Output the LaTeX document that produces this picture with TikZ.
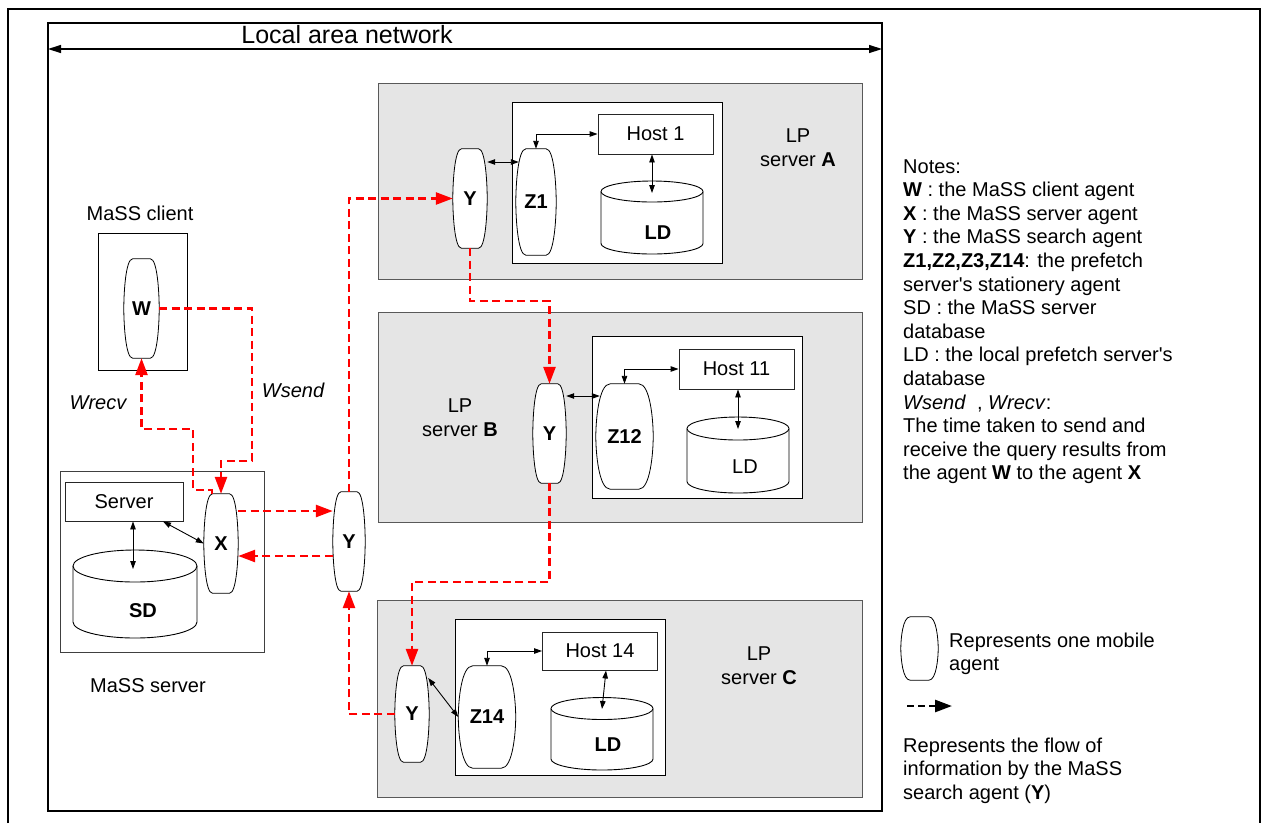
\documentclass[tikz,border=0pt]{standalone}
\usepackage{tikz}
\usepackage{fontspec}
\setmainfont{Liberation Sans}[Ligatures=TeXOff]
\usetikzlibrary{arrows.meta,calc}
\pgfdeclarelayer{boxes}
\pgfdeclarelayer{shapes}
\pgfsetlayers{boxes,shapes,main}

% barrel outline of a mobile agent, drawn round a named node
\newcommand\barrel[1]{%
  \filldraw[agentline]
    ($(#1.north west)!0.25!(#1.north east)$) -- ($(#1.north west)!0.75!(#1.north east)$)
    .. controls ($(#1.north west)!0.95!(#1.north east)$) and ($(#1.north east)!0.35!(#1.south east)$) .. (#1.east)
    .. controls ($(#1.south east)!0.35!(#1.north east)$) and ($(#1.south west)!0.95!(#1.south east)$) .. ($(#1.south west)!0.75!(#1.south east)$)
    -- ($(#1.south west)!0.25!(#1.south east)$)
    .. controls ($(#1.south west)!0.05!(#1.south east)$) and ($(#1.south west)!0.35!(#1.north west)$) .. (#1.west)
    .. controls ($(#1.north west)!0.35!(#1.south west)$) and ($(#1.north west)!0.05!(#1.north east)$) .. cycle;}

% database cylinder: centre x, top-ellipse y, bottom-ellipse y, x radius, y radius
\newcommand\dbcyl[5]{%
  \filldraw[cylline] ({#1-#4},#2) -- ({#1-#4},#3)
    arc[start angle=180,end angle=360,x radius=#4pt,y radius=#5pt]
    -- ({#1+#4},#2)
    arc[start angle=0,end angle=180,x radius=#4pt,y radius=#5pt] -- cycle;
  \draw[cylline] ({#1+#4},#2) arc[start angle=0,end angle=-180,x radius=#4pt,y radius=#5pt];}

\tikzset{
  lbl/.style={inner sep=0pt, font=\fontsize{20}{23.6}\selectfont},
  lblit/.style={inner sep=0pt, font=\fontsize{20}{23.6}\selectfont\itshape},
  agent/.style={rectangle, inner sep=0pt, font=\fontsize{20}{24}\selectfont\bfseries},
  agentline/.style={draw=black, fill=white, line width=0.8pt},
  cylline/.style={draw=black, fill=white, line width=0.9pt},
  hostbox/.style={draw=black!85, fill=white, line width=0.9pt, inner sep=0pt,
    font=\fontsize{20}{24}\selectfont},
  lpbox/.style={draw=black!65, fill=black!10, line width=1pt},
  innerbox/.style={draw=black, fill=white, line width=1pt},
  link/.style={draw=black, line width=0.9pt,
    {Triangle[length=8pt,width=5.5pt]}-{Triangle[length=8pt,width=5.5pt]}},
  flow/.style={draw=red, line width=2.6pt, dash pattern=on 8pt off 4.5pt,
    -{Triangle[length=17pt,width=12pt]}},
  legflow/.style={draw=black, line width=2.6pt, dash pattern=on 7pt off 4pt,
    -{Triangle[length=17pt,width=12pt]}},
  lanarrow/.style={draw=black, line width=1.4pt,
    {Triangle[length=13pt,width=8pt]}-{Triangle[length=13pt,width=8pt]}}
}

\begin{document}
\begin{tikzpicture}[x=1pt,y=-1pt]
\useasboundingbox (0,0) rectangle (1265,823);

% outer frame
\draw[line width=2pt] (8,823) -- (8,9) -- (1260,9) -- (1260,823);

% containers
\begin{pgfonlayer}{boxes}
  \draw[line width=1.1pt] (48,23) rectangle (882,811);
  \draw[lpbox] (378,83) rectangle (862,279);
  \draw[lpbox] (378,312) rectangle (862,522);
  \draw[lpbox] (377,600) rectangle (862,797);
  \draw[innerbox] (512,102) rectangle (722,263);
  \draw[innerbox] (592,336) rectangle (802,498);
  \draw[innerbox] (455,619) rectangle (665,775);
  \draw[innerbox] (98,233) rectangle (187,370);
  \draw[draw=black!75, fill=white, line width=1pt] (60,471) rectangle (264,652);
\end{pgfonlayer}

% local area network
\coordinate (lanL) at (48,49);
\coordinate (lanR) at (882,49);
\draw[lanarrow] (lanL) -- (lanR);
\node[inner sep=0pt, anchor=base, font=\fontsize{25}{30}\selectfont] (lan) at (347,43) {Local area network};

% hosts
\node[hostbox, minimum width=115pt, minimum height=40pt] (host1) at (655.5,134) {Host 1};
\node[hostbox, minimum width=115pt, minimum height=40pt] (host11) at (736.5,369) {Host 11};
\node[hostbox, minimum width=115pt, minimum height=38pt] (host14) at (600,651) {Host 14};
\node[hostbox, minimum width=118pt, minimum height=39pt] (server) at (124,501.5) {Server};

% databases
\begin{pgfonlayer}{shapes}
  \dbcyl{652}{191.5}{243.5}{51}{10.5}
  \dbcyl{738}{428.5}{481.5}{51}{11.5}
  \dbcyl{602}{708.5}{759}{51}{11}
  \dbcyl{135}{566}{622}{62}{16}
\end{pgfonlayer}
\node[lbl, font=\fontsize{20}{24}\selectfont\bfseries] (ldA) at (658,233) {LD};
\node[lbl] (ldB) at (745,467) {LD};
\node[lbl, font=\fontsize{20}{24}\selectfont\bfseries] (ldC) at (608,745) {LD};
\node[lbl, font=\fontsize{20}{24}\selectfont\bfseries] (sd) at (143,611) {SD};

% agents
\node[agent, minimum width=35pt, minimum height=99pt] (W) at (141.5,308.5) {W};
\node[agent, minimum width=34pt, minimum height=99pt] (X) at (221,543.5) {X};
\node[agent, minimum width=32pt, minimum height=99pt] (Ymid) at (349,541.5) {Y};
\node[agent, minimum width=34pt, minimum height=99pt] (yA) at (470,198.5) {Y};
\node[agent, minimum width=40pt, minimum height=106pt] (z1) at (536,202) {Z1};
\node[agent, minimum width=33pt, minimum height=99pt] (yB) at (549.5,433.5) {Y};
\node[agent, minimum width=57pt, minimum height=105pt] (z12) at (624.5,436.5) {Z12};
\node[agent, minimum width=34pt, minimum height=96pt] (yC) at (412,714) {Y};
\node[agent, minimum width=57pt, minimum height=102pt] (z14) at (487,717) {Z14};
\node[agent, minimum width=37pt, minimum height=63pt] (legAgent) at (919.5,648.5) {};
\begin{pgfonlayer}{shapes}
  \foreach \a in {W,X,Ymid,yA,z1,yB,z12,yC,z14,legAgent} {\barrel{\a}}
\end{pgfonlayer}

% text labels
\node[lbl] (clientlbl) at (140,213) {MaSS client};
\node[lbl] (serverlbl) at (148,686) {MaSS server};
\node[lblit] (wsend) at (293,390) {Wsend};
\node[lblit] (wrecv) at (98,403) {Wrecv};
\node[lbl, align=center] (lpA) at (798,148) {LP\\server \textbf{A}};
\node[lbl, align=center] (lpB) at (460,418) {LP\\server \textbf{B}};
\node[lbl, align=center] (lpC) at (759,666) {LP\\server \textbf{C}};

% notes (anchored at the baseline of their last line)
\node[lbl, anchor=base west, align=left] (notes) at (903,479.8) {Notes:\\
\textbf{W} : the MaSS client agent\\
\textbf{X} : the MaSS server agent\\
\textbf{Y} : the MaSS search agent\\
\textbf{Z1,Z2,Z3,Z14}: the prefetch\\
server's stationery agent\\
SD : the MaSS server\\
database\\
LD : the local prefetch server's\\
database\\
\textit{Wsend}\ \ , \textit{Wrecv}:\\
The time taken to send and\\
receive the query results from\\
the agent \textbf{W} to the agent \textbf{X}};

% legend
\node[lbl, anchor=base west, align=left] (legA) at (949,670.6) {Represents one mobile\\agent};
\coordinate (legS) at (907,706);
\coordinate (legE) at (952,706);
\draw[legflow] (legS) -- (legE);
\node[lbl, anchor=base west, align=left] (legF) at (903,799.2) {Represents the flow of\\information by the MaSS\\search agent (\textbf{Y})};

% local links
\draw[link] ([yshift=36.5pt]yA.east) -- ([yshift=40pt,xshift=3pt]z1.west);
\draw[link] (z1.north) |- (host1.west);
\coordinate (ldAtop) at (652,193);
\draw[link] (host1.south -| ldAtop) -- (ldAtop);

\draw[link] ([yshift=37.5pt]yB.east) -- ([yshift=40.5pt,xshift=4pt]z12.west);
\draw[link] (z12.north) |- (host11.west);
\coordinate (ldBtop) at (738,429);
\draw[link] (host11.south -| ldBtop) -- (ldBtop);

\draw[link] ([yshift=36pt,xshift=-1pt]yC.east) -- (z14.west);
\draw[link] (z14.north) |- (host14.west);
\coordinate (ldCtop) at (602,709);
\draw[link] ([xshift=6pt]host14.south) -- (ldCtop);

\coordinate (sdtop) at (133,569);
\draw[link] (server.south -| sdtop) -- (sdtop);
\draw[link] ([xshift=39pt]server.south) -- (X.west);

% flow of the search agent
\coordinate (ws1) at (252,308.5);
\coordinate (ws2) at (221,461);
\draw[flow] (W.east) -- (ws1) |- (ws2) -- (X.north);
\coordinate (wr0) at (212,494);
\coordinate (wr1) at (193,490);
\coordinate (wr2) at (141.5,429);
\draw[flow] (wr0) |- (wr1) |- (wr2) -- (W.south);
\draw[flow] ([yshift=32.5pt]X.east) -- ([yshift=30.5pt]Ymid.west);
\draw[flow] ([yshift=-14.5pt]Ymid.west) -- ([yshift=-12.5pt]X.east);
\draw[flow] (Ymid.north) |- (yA.west);
\coordinate (ab) at (470,301);
\draw[flow] (yA.south) -- (ab) -| (yB.north);
\coordinate (bc) at (549.5,582);
\draw[flow] (yB.south) -- (bc) -| (yC.north);
\draw[flow] (yC.west) -| (Ymid.south);
\end{tikzpicture}
\end{document}
